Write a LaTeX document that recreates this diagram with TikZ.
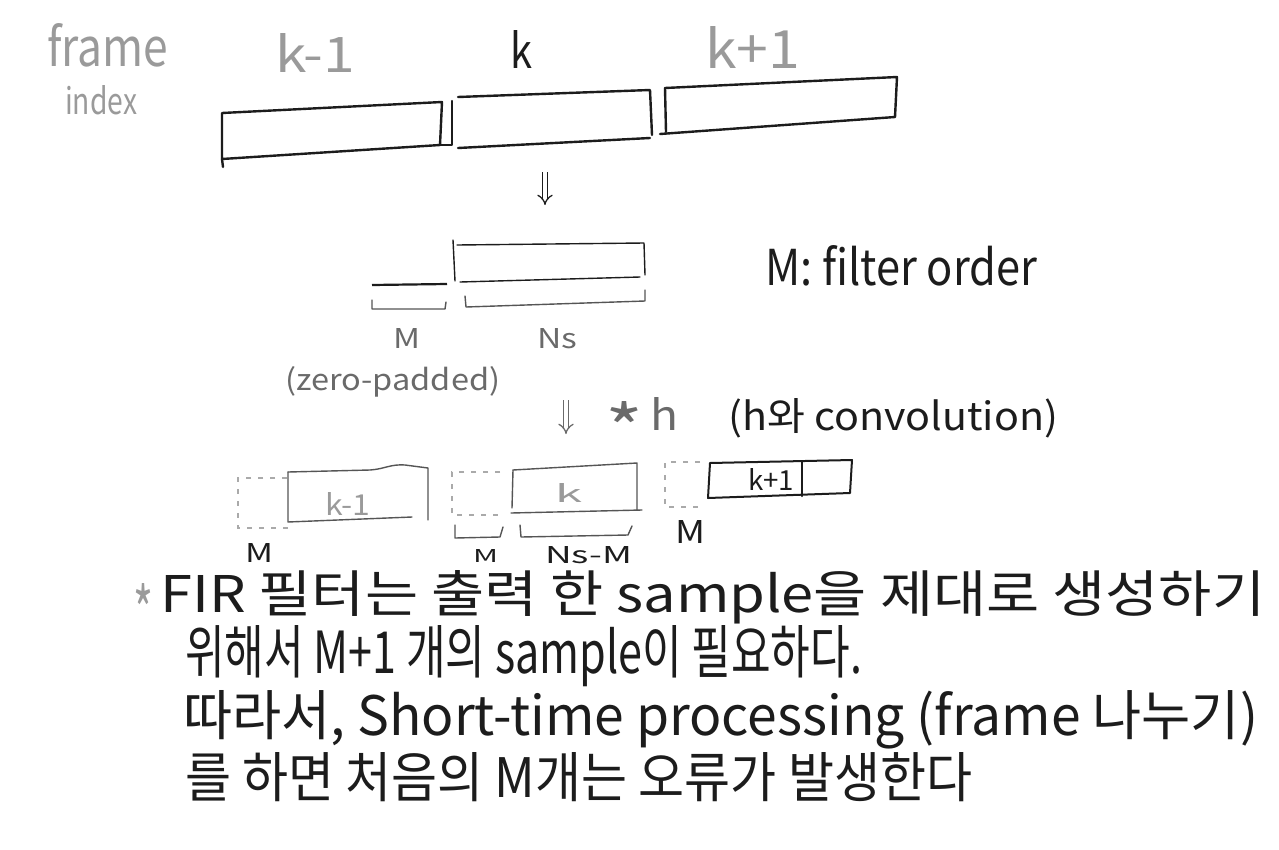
\documentclass[tikz,border=0pt]{standalone}
\usepackage{fontspec}
\usepackage{graphicx}
\setmainfont{Noto Sans CJK KR}
\usetikzlibrary{arrows.meta}
\newcommand{\hw}[3]{\resizebox{#1pt}{#2pt}{#3}}
\definecolor{ink}{HTML}{1C1C1C}
\definecolor{pencil}{HTML}{9A9A9A}
\definecolor{midgray}{HTML}{6A6A6A}
\definecolor{boxgray}{HTML}{555555}
\definecolor{dashgray}{HTML}{AAAAAA}
\tikzset{
  lbl/.style={inner sep=0pt, anchor=base west, font=\fontsize{40}{44}\selectfont},
  toplbl/.style={inner sep=0pt, anchor=north west, font=\fontsize{40}{44}\selectfont},
  heavy/.style={draw=ink, line width=2.4pt, line join=round, line cap=round},
  thin/.style={draw=boxgray, line width=1.4pt, line join=round, line cap=round},
  dashbox/.style={draw=dashgray, line width=1.4pt, dash pattern=on 5pt off 7pt},
  dblarrow/.style={double, double distance=4pt, line width=1.3pt, -{Implies}},
}
\begin{document}
\begin{tikzpicture}[x=1pt,y=-1pt]
\useasboundingbox (0,0) rectangle (1279,849);
\fill[white] (0,0) rectangle (1279,849);

% ---------- top labels ----------
\node[lbl, text=pencil] (frame) at (47,66) {\hw{121}{43}{frame}};
\node[lbl, text=pencil] (index) at (65,114) {\hw{72}{29}{index}};
\node[lbl, text=pencil] (lkm1) at (275,72) {\hw{80}{39}{k-1}};
\node[lbl, text=ink] (lk) at (510,68) {\hw{22}{38}{k}};
\node[lbl, text=pencil] (lkp1) at (705,68) {\hw{95}{42}{k+1}};

% ---------- row 1 frames ----------
\draw[heavy] (222,113) -- (442,102) -- (440,145) -- (222,159) -- cycle;
\draw[heavy] (222,159) -- (223,167);
\draw[heavy] (440,145) -- (452,145) -- (452,101);
\draw[heavy] (458,97) -- (650,90) -- (652,135);
\draw[heavy] (458,148) -- (650,138);
\draw[heavy] (665,88) -- (897,77) -- (895,117) -- (660,134);
\draw[heavy] (665,88) -- (666,132);

% arrow 1
\coordinate (a1s) at (545,172);
\coordinate (a1e) at (545,205);
\draw[dblarrow, ink] (a1s) -- (a1e);

% ---------- row 2 ----------
\draw[thin, draw=ink] (453,240) -- (455,281);
\draw[thin, draw=ink] (457,245) -- (644,243) -- (645,275);
\draw[thin, draw=ink] (460,282) -- (640,277);
\draw[ink, line width=2.2pt] (372,285) -- (447,284);
\draw[thin] (372,300) -- (372,309) -- (445,309) -- (446,302);
\draw[thin] (465,296) -- (466,307) -- (645,301) -- (645,290);
\node[lbl, text=midgray] (mrow2) at (393,348) {\hw{27}{20}{M}};
\node[lbl, text=midgray] (ns) at (537,348) {\hw{40}{20}{Ns}};
\node[lbl, text=midgray] (zp) at (285,390) {\hw{215}{24}{(zero-padded)}};
\node[lbl, text=ink] (filt) at (765,285) {\hw{272}{40}{M: filter order}};

% arrow 2
\coordinate (a2s) at (566,400);
\coordinate (a2e) at (566,434);
\draw[dblarrow, midgray] (a2s) -- (a2e);
\node[toplbl, text=midgray] (conv_star) at (605,401) {\hw{38}{52}{*}};
\node[lbl, text=midgray] (conv_h) at (650,430) {\hw{28}{33}{h}};
\node[lbl, text=ink] (conv) at (728,430) {\hw{330}{32}{(h와 convolution)}};

% ---------- row 3 ----------
\draw[dashbox] (287,478) -- (238,478) -- (238,528) -- (288,528);
\draw[thin] (288,472) -- (370,470) .. controls (385,469) and (390,464) .. (405,465) -- (428,468) -- (428,520);
\draw[thin] (288,472) -- (288,522) -- (412,517);
\node[lbl, text=pencil] (km1b) at (325,515) {\hw{45}{23}{k-1}};

\draw[dashbox] (500,472) -- (452,472) -- (452,515) -- (500,515);
\draw[thin] (513,470) -- (637,463) -- (637,510);
\draw[thin] (513,470) -- (512,508);
\draw[thin] (511,513) -- (642,510);
\node[lbl, text=pencil] (kb) at (555,502) {\hw{27}{19}{k}};
\draw[thin] (455,525) -- (455,538) -- (500,537) -- (503,527);
\draw[thin] (520,525) -- (521,537) -- (628,535) -- (632,526);

\draw[dashbox] (700,462) -- (665,462) -- (665,507) -- (700,507);
\draw[heavy, line width=2pt] (710,463) -- (852,460) -- (850,493) -- (708,498) -- cycle;
\draw[heavy, line width=2pt] (802,461) -- (802,496);
\node[lbl, text=ink] (kp1b) at (748,490) {\hw{46}{22}{k+1}};

\node[lbl, text=ink] (m3a) at (245,562) {\hw{28}{19}{M}};
\node[lbl, text=ink] (m3b) at (473,562) {\hw{25}{13}{M}};
\node[lbl, text=ink] (nsm) at (545,563) {\hw{87}{17}{Ns-M}};
\node[lbl, text=ink] (m3c) at (675,543) {\hw{30}{23}{M}};

% ---------- bottom text ----------
\node[toplbl, text=pencil] (star) at (133,583) {\hw{20}{52}{*}};
\node[lbl, text=ink] (l1) at (160,612) {\hw{1105}{42}{FIR 필터는 출력 한 sample을 제대로 생성하기}};
\node[lbl, text=ink] (l2) at (185,673) {\hw{677}{48}{위해서 M+1 개의 sample이 필요하다.}};
\node[lbl, text=ink] (l3) at (183,735) {\hw{1075}{45}{따라서, Short-time processing (frame 나누기)}};
\node[lbl, text=ink] (l4) at (185,797) {\hw{787}{45}{를 하면 처음의 M개는 오류가 발생한다}};
\end{tikzpicture}
\end{document}
